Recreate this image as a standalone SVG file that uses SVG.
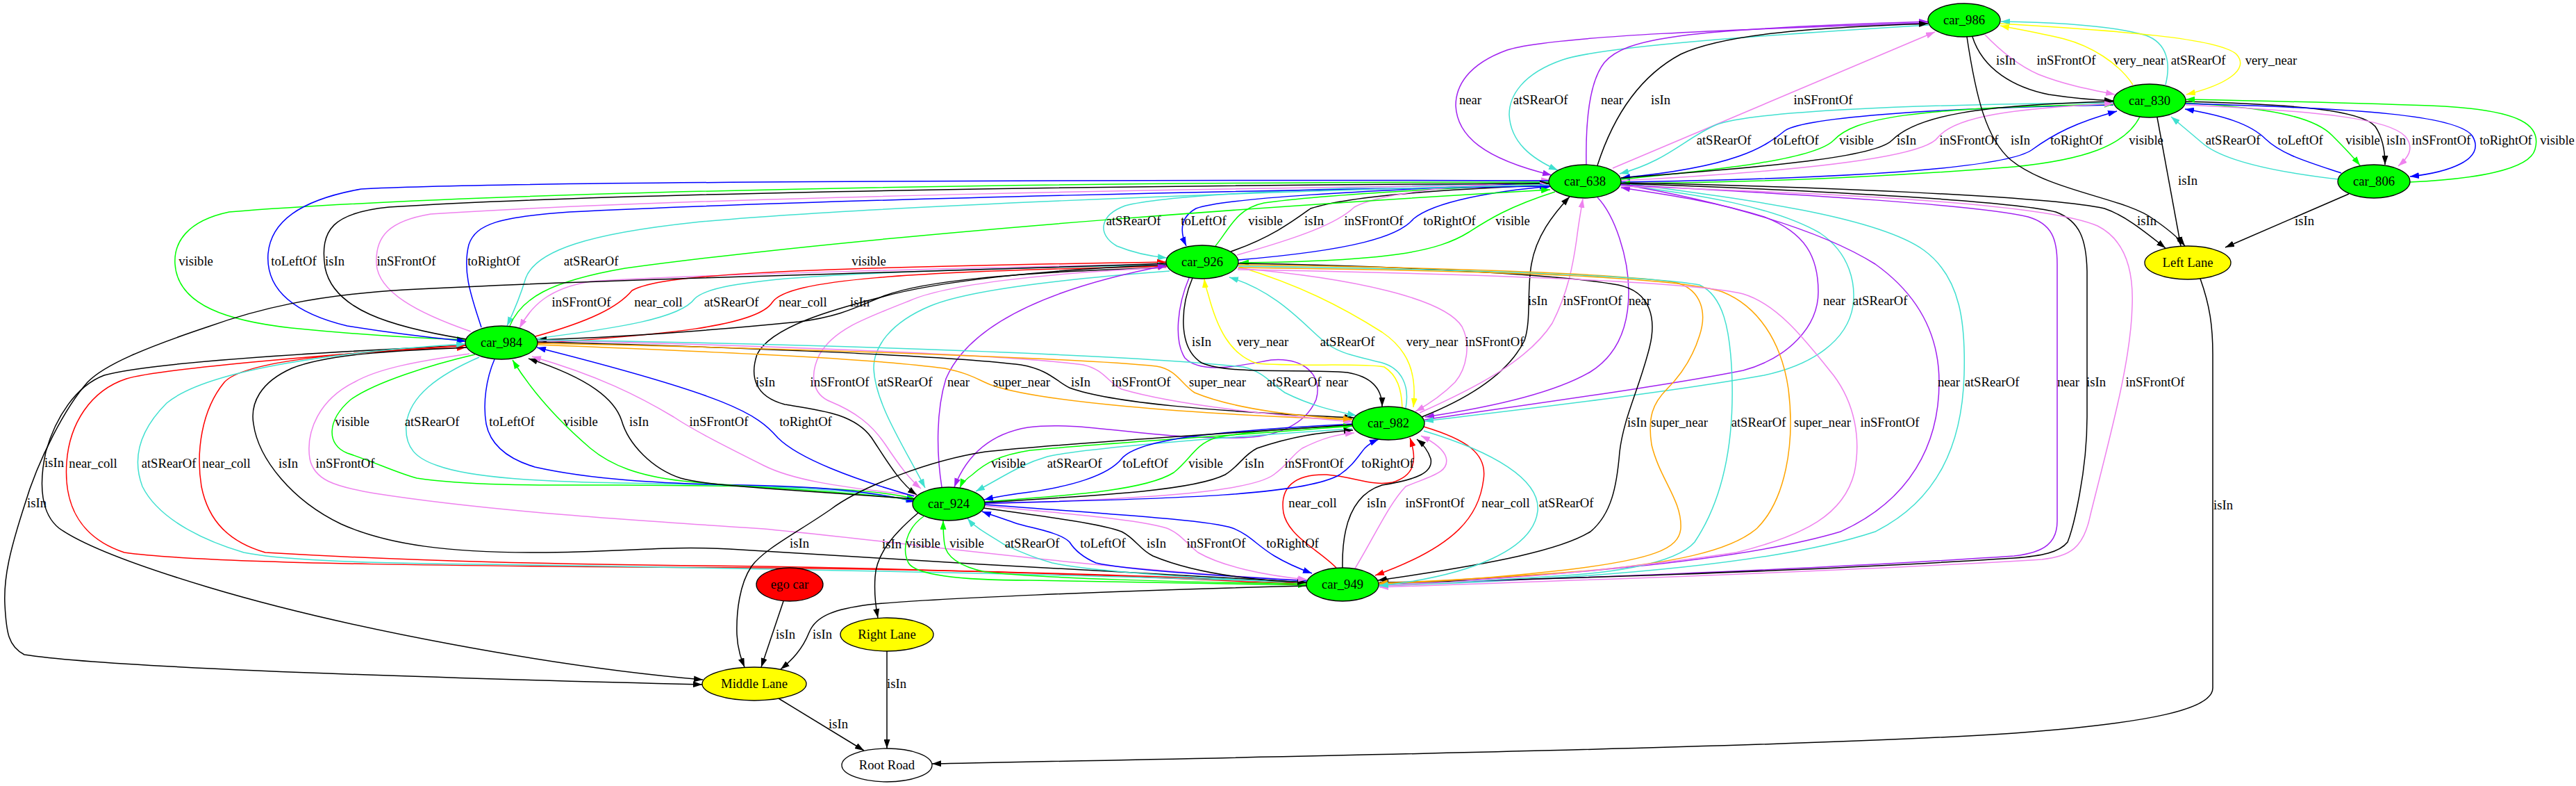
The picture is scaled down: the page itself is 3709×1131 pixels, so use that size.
<svg xmlns="http://www.w3.org/2000/svg" width="3709" height="1131" viewBox="0 0 3709 1131">
<defs>
<style>
.e path{fill:none;stroke-width:1.5}
.k{stroke:#000;marker-end:url(#mk)}
.p{stroke:#a020f0;marker-end:url(#mp)}
.c{stroke:#40e0d0;marker-end:url(#mc)}
.v{stroke:#ee82ee;marker-end:url(#mv)}
.b{stroke:#0000ff;marker-end:url(#mb)}
.g{stroke:#00ff00;marker-end:url(#mg)}
.y{stroke:#ffff00;marker-end:url(#my)}
.r{stroke:#ff0000;marker-end:url(#mr)}
.o{stroke:#ffa500;marker-end:url(#mo)}
text{font-family:"Liberation Serif","Times New Roman",serif;font-size:18.67px;text-anchor:middle;fill:#000}
.n ellipse{stroke:#000;stroke-width:1.33}
</style>
<marker id="mk" viewBox="0 0 13 9" refX="13" refY="4.5" markerWidth="13" markerHeight="9" markerUnits="userSpaceOnUse" orient="auto"><path d="M0,0L13,4.5L0,9z" fill="#000"/></marker>
<marker id="mp" viewBox="0 0 13 9" refX="13" refY="4.5" markerWidth="13" markerHeight="9" markerUnits="userSpaceOnUse" orient="auto"><path d="M0,0L13,4.5L0,9z" fill="#a020f0"/></marker>
<marker id="mc" viewBox="0 0 13 9" refX="13" refY="4.5" markerWidth="13" markerHeight="9" markerUnits="userSpaceOnUse" orient="auto"><path d="M0,0L13,4.5L0,9z" fill="#40e0d0"/></marker>
<marker id="mv" viewBox="0 0 13 9" refX="13" refY="4.5" markerWidth="13" markerHeight="9" markerUnits="userSpaceOnUse" orient="auto"><path d="M0,0L13,4.5L0,9z" fill="#ee82ee"/></marker>
<marker id="mb" viewBox="0 0 13 9" refX="13" refY="4.5" markerWidth="13" markerHeight="9" markerUnits="userSpaceOnUse" orient="auto"><path d="M0,0L13,4.5L0,9z" fill="#0000ff"/></marker>
<marker id="mg" viewBox="0 0 13 9" refX="13" refY="4.5" markerWidth="13" markerHeight="9" markerUnits="userSpaceOnUse" orient="auto"><path d="M0,0L13,4.5L0,9z" fill="#00ff00"/></marker>
<marker id="my" viewBox="0 0 13 9" refX="13" refY="4.5" markerWidth="13" markerHeight="9" markerUnits="userSpaceOnUse" orient="auto"><path d="M0,0L13,4.5L0,9z" fill="#ffff00"/></marker>
<marker id="mr" viewBox="0 0 13 9" refX="13" refY="4.5" markerWidth="13" markerHeight="9" markerUnits="userSpaceOnUse" orient="auto"><path d="M0,0L13,4.5L0,9z" fill="#ff0000"/></marker>
<marker id="mo" viewBox="0 0 13 9" refX="13" refY="4.5" markerWidth="13" markerHeight="9" markerUnits="userSpaceOnUse" orient="auto"><path d="M0,0L13,4.5L0,9z" fill="#ffa500"/></marker>
</defs>
<rect width="3709" height="1131" fill="#fff"/>
<g id="edges" class="e">
<path class="p" d="M2776,33 C2500,42 2230,52 2170,72 C2112,93 2096,125 2096,152 C2098,195 2135,228 2234,252"/>
<path class="c" d="M2777,36 C2550,50 2310,66 2250,86 C2192,106 2173,138 2173,165 C2175,205 2205,228 2243,245"/>
<path class="p" d="M2284,237 C2283,185 2286,120 2310,90 C2340,55 2420,42 2776,31"/>
<path class="k" d="M2300,238 C2322,170 2360,110 2420,78 C2480,50 2600,40 2776,34"/>
<path class="v" d="M2322,242 L2786,46"/>
<path class="k" d="M2840,53 C2855,100 2900,126 2950,136 C2990,142 3015,144 3043,145"/>
<path class="v" d="M2858,50 C2885,78 2910,96 2935,107 C2970,121 3005,128 3045,136"/>
<path class="y" d="M3071,122 C3050,90 3010,66 2972,56 C2935,47 2905,42 2880,37"/>
<path class="c" d="M3118,122 C3126,90 3120,62 3090,51 C3040,36 2950,32 2881,31"/>
<path class="y" d="M2880,34 C3050,44 3195,55 3220,78 C3240,100 3205,122 3148,136"/>
<path class="c" d="M3043,148 C2750,150 2520,160 2470,180 C2425,200 2400,232 2332,250"/>
<path class="b" d="M3043,151 C2800,155 2600,168 2570,188 C2540,212 2500,240 2334,256"/>
<path class="g" d="M2334,258 C2450,246 2610,232 2640,202 C2670,170 2750,155 3043,150"/>
<path class="k" d="M2334,256 C2550,240 2700,226 2724,202 C2760,166 2850,151 3043,146"/>
<path class="v" d="M2334,260 C2600,246 2770,226 2790,198 C2815,167 2900,156 3043,149"/>
<path class="b" d="M2334,262 C2600,258 2880,246 2925,216 C2958,192 2990,176 3048,160"/>
<path class="g" d="M3081,168 C3060,210 3000,230 2900,240 C2700,256 2500,263 2334,264"/>
<path class="c" d="M3367,258 C3280,248 3200,232 3170,205 C3150,188 3138,178 3126,168"/>
<path class="b" d="M3371,249 C3320,232 3285,222 3262,200 C3240,178 3200,166 3146,157"/>
<path class="g" d="M3147,148 C3260,155 3330,166 3358,195 C3378,215 3390,228 3398,238"/>
<path class="k" d="M3147,146 C3300,150 3400,158 3420,182 C3432,200 3434,220 3434,237"/>
<path class="v" d="M3147,151 C3350,160 3440,172 3463,196 C3478,214 3466,228 3453,239"/>
<path class="b" d="M3147,149 C3400,156 3540,166 3560,196 C3580,230 3525,248 3470,254"/>
<path class="g" d="M3470,262 C3560,258 3642,245 3650,215 C3660,180 3630,160 3520,153 C3400,148 3250,145 3147,143"/>
<path class="k" d="M3106,169 L3140,354"/>
<path class="k" d="M2832,53 C2845,140 2860,200 2895,230 C2950,275 3060,285 3100,315 C3122,330 3138,344 3146,354"/>
<path class="k" d="M2334,263 C2600,268 2950,282 3030,300 C3060,310 3090,335 3118,357"/>
<path class="k" d="M3382,279 L3204,356"/>
<path class="k" d="M3168,401 C3182,440 3186,470 3186,510 L3186,990 C3186,1020 3100,1040 2900,1055 C2600,1075 1800,1090 1342,1099"/>
<path class="c" d="M2230,262 C1900,270 1680,280 1620,296 C1582,310 1580,338 1608,354 C1635,365 1658,369 1680,371"/>
<path class="b" d="M2230,263 C1950,275 1762,285 1722,300 C1697,314 1700,336 1708,354"/>
<path class="g" d="M1750,354 C1770,330 1780,300 1820,292 C1900,280 2100,270 2230,264"/>
<path class="k" d="M1772,362 C1830,342 1862,318 1887,300 C1950,280 2100,272 2230,266"/>
<path class="v" d="M1781,367 C1870,342 1925,322 1950,298 C1990,276 2120,265 2232,259"/>
<path class="b" d="M1783,374 C1950,360 2015,340 2035,315 C2065,290 2150,275 2234,268"/>
<path class="g" d="M2239,276 C2170,298 2140,318 2115,334 C2070,362 2000,376 1785,378"/>
<path class="g" d="M2230,262 C1500,262 700,275 330,305 C268,318 250,350 252,380 C256,440 330,462 420,472 C520,482 610,487 671,489"/>
<path class="b" d="M2230,260 C1500,258 700,262 520,272 C430,288 390,320 386,365 C382,420 430,452 500,469 C580,482 632,487 671,491"/>
<path class="k" d="M671,488 C560,470 480,445 468,385 C460,330 480,306 560,298 C900,276 1700,266 2230,264"/>
<path class="v" d="M678,477 C600,450 545,420 542,380 C540,340 560,318 620,308 C1000,283 1800,270 2230,266"/>
<path class="b" d="M693,471 C680,430 665,392 675,352 C685,322 720,312 820,305 C1200,286 1900,272 2230,268"/>
<path class="c" d="M2230,266 C1800,275 1200,300 1000,320 C850,336 772,360 757,400 C748,430 738,452 730,469"/>
<path class="g" d="M734,469 C750,430 790,405 900,386 C1300,332 1900,292 2232,273"/>
<path class="v" d="M1679,380 C1400,385 1000,395 850,405 C790,415 765,440 748,472"/>
<path class="r" d="M771,484 C850,462 890,442 910,418 C950,396 1100,386 1679,377"/>
<path class="c" d="M773,487 C890,472 980,458 1000,430 C1030,400 1200,391 1680,381"/>
<path class="r" d="M774,494 C950,482 1090,470 1112,435 C1135,402 1300,391 1680,383"/>
<path class="k" d="M1679,385 C1450,392 1330,405 1275,425 C1240,438 1215,455 1150,463 C1000,478 870,486 774,489"/>
<path class="k" d="M1679,379 C1400,390 900,400 582,417 C450,425 370,445 300,470 C210,500 150,525 126,550 C95,585 55,660 35,728 C15,790 5,830 7,870 C9,910 12,930 35,942 C150,960 600,975 1011,985"/>
<path class="k" d="M671,497 C500,505 220,520 150,540 C110,555 80,600 66,650 C55,700 60,740 85,760 C120,785 200,815 300,845 C500,905 800,960 1012,978"/>
<path class="r" d="M1881,840 C1750,832 1500,822 1100,817 C700,815 300,812 179,795 C110,772 92,720 96,665 C100,610 130,562 182,545 C230,530 500,508 670,497"/>
<path class="r" d="M1881,842 C1700,830 1300,818 1100,815 C800,812 600,808 382,795 C330,780 300,750 290,700 C282,650 290,590 323,550 C350,520 500,505 671,500"/>
<path class="c" d="M1881,838 C1500,825 1100,818 700,812 C500,810 400,805 351,795 C300,780 230,750 205,700 C190,660 200,620 240,580 C300,530 500,505 670,495"/>
<path class="k" d="M672,500 C560,505 470,510 420,530 C375,550 360,580 365,610 C372,660 420,720 491,754 C560,785 650,795 772,795 C900,795 950,785 1050,790 C1300,805 1700,830 1881,838"/>
<path class="v" d="M676,509 C600,520 545,530 510,550 C460,575 440,620 446,660 C452,690 480,700 540,710 C700,735 900,748 1100,761 C1300,780 1600,822 1881,835"/>
<path class="g" d="M684,510 C620,525 540,550 505,575 C470,605 470,640 500,652 C540,665 570,680 600,688 C680,700 800,698 893,698 C1100,699 1250,700 1318,718"/>
<path class="c" d="M690,514 C630,540 590,570 585,610 C582,645 600,660 630,670 C680,688 780,693 893,695 C1100,698 1250,705 1317,721"/>
<path class="b" d="M712,517 C700,545 695,580 700,610 C706,640 730,660 770,672 C850,690 950,696 1071,698 C1200,700 1270,710 1318,722"/>
<path class="g" d="M1316,719 C1200,705 1050,700 982,692 C920,685 880,670 850,645 C815,615 770,570 738,518"/>
<path class="k" d="M1317,718 C1150,705 1020,700 980,688 C940,675 905,640 895,605 C885,575 850,545 761,516"/>
<path class="v" d="M1320,713 C1200,700 1140,690 1100,670 C1050,645 1000,620 970,600 C920,570 860,540 766,513"/>
<path class="b" d="M1316,714 C1230,690 1150,660 1120,630 C1090,595 1050,570 773,500"/>
<path class="k" d="M1680,381 C1500,388 1350,405 1271,427 C1200,445 1110,470 1090,510 C1080,540 1085,570 1130,582 C1180,590 1230,595 1255,630 C1275,660 1295,695 1320,712"/>
<path class="v" d="M1680,385 C1500,393 1360,410 1309,433 C1240,460 1200,475 1180,510 C1165,540 1170,568 1196,578 C1230,592 1255,610 1275,640 C1295,670 1310,690 1326,703"/>
<path class="c" d="M1684,390 C1550,400 1400,415 1340,440 C1280,465 1258,500 1258,530 C1260,580 1300,640 1332,702"/>
<path class="p" d="M1356,701 C1348,650 1348,590 1362,545 C1390,480 1480,420 1680,382"/>
<path class="p" d="M1712,400 C1695,440 1690,490 1706,515 C1730,540 1790,525 1830,518 C1878,514 1905,540 1895,575 C1880,610 1840,630 1780,630 C1650,632 1560,605 1480,615 C1420,625 1390,660 1374,701"/>
<path class="o" d="M774,496 C1000,505 1250,515 1360,530 C1400,538 1410,548 1430,555 C1500,578 1700,595 1947,604"/>
<path class="k" d="M774,492 C1000,498 1350,510 1470,525 C1510,532 1520,548 1540,558 C1600,580 1750,592 1949,601"/>
<path class="v" d="M774,490 C1050,495 1450,510 1560,525 C1590,532 1595,550 1615,560 C1700,585 1850,598 1948,607"/>
<path class="o" d="M774,494 C1100,500 1550,515 1665,527 C1695,532 1700,552 1720,565 C1780,590 1880,600 1947,603"/>
<path class="c" d="M774,489 C1200,495 1650,512 1790,528 C1820,535 1830,552 1850,565 C1890,585 1925,592 1953,598"/>
<path class="k" d="M1717,400 C1700,440 1695,500 1730,522 C1770,540 1880,530 1940,536 C1975,542 1990,560 1990,585"/>
<path class="y" d="M2019,587 C2018,560 2012,540 1993,528 C1960,522 1870,528 1810,523 C1770,510 1752,470 1740,425 C1737,415 1735,410 1734,401"/>
<path class="c" d="M2024,587 C2030,555 2018,530 1990,522 C1950,512 1925,508 1905,490 C1880,470 1840,420 1770,399"/>
<path class="y" d="M1785,384 C1870,410 1930,440 1990,478 C2030,505 2040,540 2035,586"/>
<path class="v" d="M1782,386 C1950,400 2080,430 2105,470 C2118,495 2112,530 2095,550 C2080,565 2060,580 2038,592"/>
<path class="k" d="M2047,600 C2110,575 2170,540 2195,490 C2205,460 2198,420 2205,380 C2212,340 2235,310 2260,283"/>
<path class="v" d="M2044,594 C2120,560 2200,520 2235,465 C2258,420 2265,380 2270,345 C2273,320 2276,305 2279,286"/>
<path class="p" d="M2300,284 C2325,310 2345,370 2345,420 C2345,470 2330,510 2290,535 C2230,570 2120,590 2052,600"/>
<path class="p" d="M2051,604 C2200,582 2400,555 2510,533 C2575,515 2618,470 2618,420 C2618,370 2600,335 2540,312 C2470,290 2400,280 2334,270"/>
<path class="c" d="M2333,266 C2450,280 2555,298 2620,335 C2665,365 2672,410 2668,440 C2660,490 2610,525 2540,540 C2400,565 2200,588 2051,606"/>
<path class="p" d="M2334,265 C2480,290 2620,330 2700,380 C2770,430 2792,490 2792,550 C2792,640 2750,720 2650,765 C2500,810 2200,832 1985,840"/>
<path class="c" d="M2334,263 C2500,285 2700,310 2770,360 C2825,400 2830,470 2828,540 C2825,640 2790,720 2700,765 C2550,815 2250,835 1986,843"/>
<path class="p" d="M2334,266 C2600,280 2850,295 2920,312 C2955,322 2962,345 2962,380 L2962,750 C2962,780 2945,795 2900,800 C2600,820 2200,835 1986,840"/>
<path class="k" d="M2334,264 C2650,275 2900,290 2960,305 C2995,318 3004,345 3005,390 L3005,600 C3005,680 2985,760 2977,780 C2965,795 2940,800 2900,803 C2600,822 2200,835 1986,838"/>
<path class="v" d="M2334,268 C2700,280 2950,295 3020,325 C3060,345 3072,390 3070,440 C3068,520 3040,620 3010,740 C3000,790 2980,800 2940,805 C2700,820 2250,836 1986,845"/>
<path class="k" d="M1783,379 C2000,382 2250,395 2330,410 C2378,420 2385,460 2375,500 C2360,560 2338,600 2332,650 C2328,700 2320,740 2290,765 C2250,790 2160,810 1984,835"/>
<path class="o" d="M1783,381 C2100,385 2350,395 2415,407 C2450,418 2458,450 2447,483 C2437,515 2420,540 2400,560 C2380,580 2372,600 2378,640 C2390,690 2422,720 2420,760 C2418,790 2380,805 2255,820 C2150,832 2050,838 1985,840"/>
<path class="c" d="M1783,383 C2150,388 2380,398 2447,410 C2480,425 2492,470 2494,550 C2496,640 2480,720 2440,780 C2410,815 2300,825 2255,828 C2150,835 2050,840 1985,842"/>
<path class="o" d="M1783,385 C2200,390 2420,400 2480,420 C2530,440 2565,490 2575,560 C2585,640 2570,720 2530,760 C2490,795 2400,810 2300,820 C2150,832 2050,837 1985,839"/>
<path class="v" d="M1782,388 C2200,395 2450,408 2510,423 C2560,438 2600,490 2640,540 C2670,580 2680,630 2670,680 C2655,740 2600,770 2500,795 C2300,825 2100,838 1985,843"/>
<path class="r" d="M1924,817 C1900,792 1855,772 1848,738 C1842,700 1865,682 1910,683 C1950,686 1975,700 2005,694 C2035,685 2042,665 2030,630"/>
<path class="k" d="M1933,817 C1932,762 1945,712 1990,698 C2040,690 2064,680 2060,660 C2056,648 2050,640 2040,632"/>
<path class="v" d="M1951,818 C1980,770 2000,725 2024,700 C2060,685 2088,680 2082,658 C2078,645 2062,635 2046,627"/>
<path class="r" d="M2050,614 C2110,632 2142,652 2136,690 C2130,740 2100,785 1980,828"/>
<path class="c" d="M2050,620 C2150,650 2218,690 2214,735 C2208,790 2120,828 1986,843"/>
<path class="g" d="M1947,613 C1800,625 1600,637 1483,648 C1440,655 1420,665 1400,683 C1390,690 1385,695 1382,702"/>
<path class="c" d="M1947,617 C1750,630 1560,645 1508,657 C1470,668 1450,683 1405,707"/>
<path class="b" d="M1947,610 C1760,620 1640,630 1615,660 C1595,685 1540,700 1483,708 C1450,712 1430,716 1417,719"/>
<path class="g" d="M1418,722 C1550,712 1650,705 1690,680 C1715,660 1720,640 1750,630 C1800,620 1880,615 1947,613"/>
<path class="k" d="M1418,723 C1600,712 1720,705 1764,683 C1785,670 1790,655 1810,645 C1860,628 1900,622 1948,619"/>
<path class="v" d="M1418,725 C1650,718 1800,708 1834,683 C1855,668 1860,655 1875,645 C1905,630 1925,625 1950,623"/>
<path class="b" d="M1418,724 C1700,718 1880,712 1929,683 C1948,670 1955,657 1965,645 C1972,638 1978,635 1985,632"/>
<path class="k" d="M1948,611 C1800,622 1550,636 1419,650 C1340,662 1240,700 1196,733 C1150,765 1100,790 1082,815 C1065,840 1060,880 1061,913 C1062,935 1068,950 1072,960"/>
<path class="g" d="M1330,743 C1305,760 1298,790 1308,810 C1320,830 1400,835 1483,835 C1650,838 1800,840 1882,842"/>
<path class="g" d="M1882,840 C1700,838 1500,832 1419,823 C1380,815 1362,800 1360,783 C1358,770 1358,760 1358,749"/>
<path class="c" d="M1882,838 C1700,832 1560,820 1515,810 C1480,800 1460,790 1445,783 C1425,770 1405,760 1393,746"/>
<path class="b" d="M1882,836 C1750,828 1620,820 1578,810 C1555,800 1545,788 1540,780 C1525,765 1483,760 1460,752 C1440,745 1425,740 1414,736"/>
<path class="k" d="M1416,731 C1520,745 1590,755 1615,765 C1635,775 1640,790 1660,800 C1720,825 1800,835 1881,838"/>
<path class="v" d="M1417,728 C1550,740 1640,748 1680,760 C1700,768 1708,782 1725,795 C1760,815 1820,828 1882,834"/>
<path class="b" d="M1417,726 C1600,740 1740,748 1775,760 C1800,770 1810,785 1835,800 C1855,812 1870,818 1889,825"/>
<path class="k" d="M1322,738 C1290,765 1262,795 1260,830 C1258,860 1262,878 1264,889"/>
<path class="k" d="M1882,843 C1600,850 1330,862 1251,870 C1205,876 1175,885 1165,910 C1155,935 1140,950 1124,963"/>
<path class="k" d="M1128,865 L1096,960"/>
<path class="k" d="M1121,1005 L1244,1080"/>
<path class="k" d="M1277,937 L1277,1077"/>
<text x="2117" y="150">near</text>
<text x="2218" y="150">atSRearOf</text>
<text x="2321" y="150">near</text>
<text x="2391" y="150">isIn</text>
<text x="2625" y="150">inSFrontOf</text>
<text x="2888" y="93">isIn</text>
<text x="2975" y="93">inSFrontOf</text>
<text x="3080" y="93">very_near</text>
<text x="3165" y="93">atSRearOf</text>
<text x="3270" y="93">very_near</text>
<text x="2482" y="208">atSRearOf</text>
<text x="2586" y="208">toLeftOf</text>
<text x="2673" y="208">visible</text>
<text x="2745" y="208">isIn</text>
<text x="2835" y="208">inSFrontOf</text>
<text x="2909" y="208">isIn</text>
<text x="2990" y="208">toRightOf</text>
<text x="3090" y="208">visible</text>
<text x="3215" y="208">atSRearOf</text>
<text x="3312" y="208">toLeftOf</text>
<text x="3402" y="208">visible</text>
<text x="3450" y="208">isIn</text>
<text x="3515" y="208">inSFrontOf</text>
<text x="3608" y="208">toRightOf</text>
<text x="3682" y="208">visible</text>
<text x="3150" y="266">isIn</text>
<text x="3091" y="324">isIn</text>
<text x="3318" y="324">isIn</text>
<text x="3201" y="733">isIn</text>
<text x="1632" y="324">atSRearOf</text>
<text x="1733" y="324">toLeftOf</text>
<text x="1822" y="324">visible</text>
<text x="1892" y="324">isIn</text>
<text x="1978" y="324">inSFrontOf</text>
<text x="2087" y="324">toRightOf</text>
<text x="2178" y="324">visible</text>
<text x="282" y="382">visible</text>
<text x="423" y="382">toLeftOf</text>
<text x="482" y="382">isIn</text>
<text x="585" y="382">inSFrontOf</text>
<text x="711" y="382">toRightOf</text>
<text x="851" y="382">atSRearOf</text>
<text x="1251" y="382">visible</text>
<text x="837" y="441">inSFrontOf</text>
<text x="948" y="441">near_coll</text>
<text x="1053" y="441">atSRearOf</text>
<text x="1156" y="441">near_coll</text>
<text x="1238" y="441">isIn</text>
<text x="53" y="730">isIn</text>
<text x="78" y="672">isIn</text>
<text x="134" y="673">near_coll</text>
<text x="326" y="673">near_coll</text>
<text x="243" y="673">atSRearOf</text>
<text x="415" y="673">isIn</text>
<text x="497" y="673">inSFrontOf</text>
<text x="507" y="613">visible</text>
<text x="622" y="613">atSRearOf</text>
<text x="737" y="613">toLeftOf</text>
<text x="836" y="613">visible</text>
<text x="920" y="613">isIn</text>
<text x="1035" y="613">inSFrontOf</text>
<text x="1160" y="613">toRightOf</text>
<text x="1102" y="556">isIn</text>
<text x="1209" y="556">inSFrontOf</text>
<text x="1303" y="556">atSRearOf</text>
<text x="1380" y="556">near</text>
<text x="1925" y="556">near</text>
<text x="1471" y="556">super_near</text>
<text x="1556" y="556">isIn</text>
<text x="1643" y="556">inSFrontOf</text>
<text x="1753" y="556">super_near</text>
<text x="1863" y="556">atSRearOf</text>
<text x="1730" y="498">isIn</text>
<text x="1818" y="498">very_near</text>
<text x="1940" y="498">atSRearOf</text>
<text x="2062" y="498">very_near</text>
<text x="2152" y="498">inSFrontOf</text>
<text x="2214" y="439">isIn</text>
<text x="2293" y="439">inSFrontOf</text>
<text x="2361" y="439">near</text>
<text x="2641" y="439">near</text>
<text x="2707" y="439">atSRearOf</text>
<text x="2806" y="556">near</text>
<text x="2868" y="556">atSRearOf</text>
<text x="2978" y="556">near</text>
<text x="3018" y="556">isIn</text>
<text x="3103" y="556">inSFrontOf</text>
<text x="2357" y="614">isIn</text>
<text x="2418" y="614">super_near</text>
<text x="2532" y="614">atSRearOf</text>
<text x="2624" y="614">super_near</text>
<text x="2721" y="614">inSFrontOf</text>
<text x="1890" y="730">near_coll</text>
<text x="1982" y="730">isIn</text>
<text x="2066" y="730">inSFrontOf</text>
<text x="2168" y="730">near_coll</text>
<text x="2255" y="730">atSRearOf</text>
<text x="1452" y="673">visible</text>
<text x="1547" y="673">atSRearOf</text>
<text x="1649" y="673">toLeftOf</text>
<text x="1736" y="673">visible</text>
<text x="1806" y="673">isIn</text>
<text x="1892" y="673">inSFrontOf</text>
<text x="1998" y="673">toRightOf</text>
<text x="1151" y="788">isIn</text>
<text x="1284" y="789">isIn</text>
<text x="1329" y="788">visible</text>
<text x="1392" y="788">visible</text>
<text x="1486" y="788">atSRearOf</text>
<text x="1588" y="788">toLeftOf</text>
<text x="1665" y="788">isIn</text>
<text x="1751" y="788">inSFrontOf</text>
<text x="1861" y="788">toRightOf</text>
<text x="1184" y="919">isIn</text>
<text x="1131" y="919">isIn</text>
<text x="1207" y="1048">isIn</text>
<text x="1291" y="990">isIn</text>
</g>
<g id="car_986" class="n"><ellipse cx="2828" cy="29" rx="52" ry="24" fill="#00ff00"/><text x="2828" y="35">car_986</text></g>
<g id="car_830" class="n"><ellipse cx="3095" cy="145" rx="52" ry="24" fill="#00ff00"/><text x="3095" y="151">car_830</text></g>
<g id="car_638" class="n"><ellipse cx="2282" cy="261" rx="52" ry="24" fill="#00ff00"/><text x="2282" y="267">car_638</text></g>
<g id="car_806" class="n"><ellipse cx="3418" cy="261" rx="52" ry="24" fill="#00ff00"/><text x="3418" y="267">car_806</text></g>
<g id="left_lane" class="n"><ellipse cx="3150" cy="378" rx="62" ry="24" fill="#ffff00"/><text x="3150" y="384">Left Lane</text></g>
<g id="car_926" class="n"><ellipse cx="1731" cy="377" rx="52" ry="24" fill="#00ff00"/><text x="1731" y="383">car_926</text></g>
<g id="car_984" class="n"><ellipse cx="722" cy="493" rx="52" ry="24" fill="#00ff00"/><text x="722" y="499">car_984</text></g>
<g id="car_982" class="n"><ellipse cx="1999" cy="609" rx="52" ry="24" fill="#00ff00"/><text x="1999" y="615">car_982</text></g>
<g id="car_924" class="n"><ellipse cx="1366" cy="725" rx="52" ry="24" fill="#00ff00"/><text x="1366" y="731">car_924</text></g>
<g id="car_949" class="n"><ellipse cx="1933" cy="841" rx="52" ry="24" fill="#00ff00"/><text x="1933" y="847">car_949</text></g>
<g id="ego_car" class="n"><ellipse cx="1137" cy="841" rx="48" ry="24" fill="#ff0000"/><text x="1137" y="847">ego car</text></g>
<g id="right_lane" class="n"><ellipse cx="1277" cy="913" rx="67" ry="24" fill="#ffff00"/><text x="1277" y="919">Right Lane</text></g>
<g id="middle_lane" class="n"><ellipse cx="1086" cy="984" rx="75" ry="24" fill="#ffff00"/><text x="1086" y="990">Middle Lane</text></g>
<g id="root_road" class="n"><ellipse cx="1277" cy="1101" rx="65" ry="24" fill="#ffffff"/><text x="1277" y="1107">Root Road</text></g>
</svg>
